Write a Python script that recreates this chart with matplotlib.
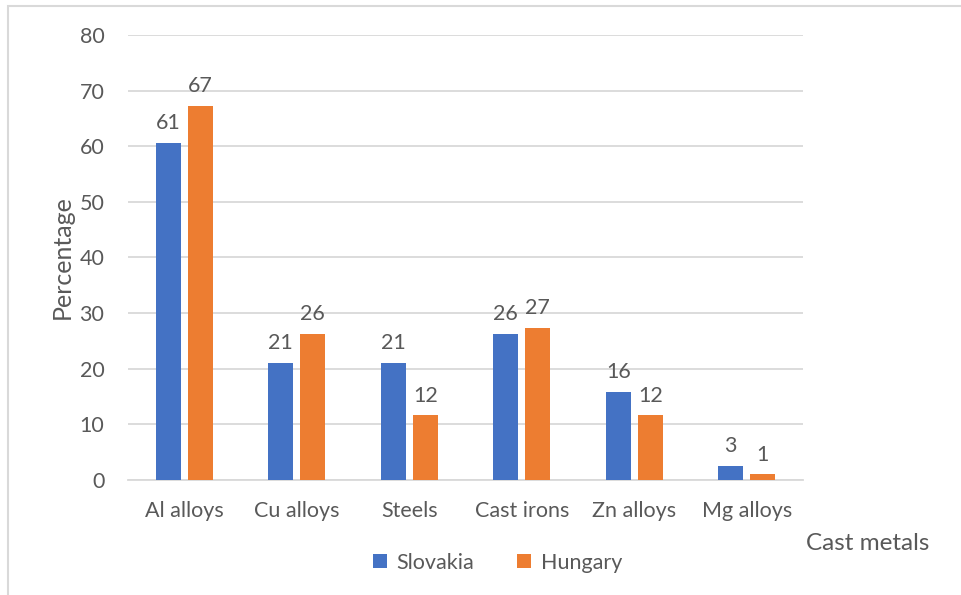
import numpy as np
import matplotlib.pyplot as plt
from matplotlib.patches import Rectangle

categories = ['Al alloys', 'Cu alloys', 'Steels', 'Cast irons', 'Zn alloys', 'Mg alloys']
slovakia = [60.6, 21.1, 21.1, 26.3, 15.8, 2.6]
hungary = [67.3, 26.3, 11.6, 27.3, 11.6, 1.0]

blue = '#4472C4'
orange = '#ED7D31'
txt = '#595959'
grid_c = '#D9D9D9'

plt.rcParams['font.family'] = ['Lato', 'DejaVu Sans']

fig = plt.figure(figsize=(9.62, 5.95), dpi=100)
ax = fig.add_axes([0.1331, 0.1933, 0.7017, 0.748])

x = np.arange(len(categories))
w = 0.222
off = 0.142
b1 = ax.bar(x - off, slovakia, w, color=blue, label='Slovakia', zorder=3)
b2 = ax.bar(x + off, hungary, w, color=orange, label='Hungary', zorder=3)

for bars, vals in ((b1, slovakia), (b2, hungary)):
    for r, v in zip(bars, vals):
        ax.annotate('%.0f' % v, (r.get_x() + r.get_width() / 2, v),
                    xytext=(0, 7), textcoords='offset points',
                    ha='center', va='bottom', fontsize=15.5, color=txt)

ax.set_xlim(-0.5, len(categories) - 0.5)
ax.set_ylim(0, 80)
ax.set_yticks(range(0, 81, 10))
ax.set_xticks(x)
ax.set_xticklabels(categories)
ax.yaxis.grid(True, color=grid_c, linewidth=1.3, zorder=0)
ax.tick_params(axis='both', length=0, labelsize=15.5, labelcolor=txt)
ax.tick_params(axis='x', pad=15)
ax.tick_params(axis='y', pad=17)
for s in ['top', 'right', 'left']:
    ax.spines[s].set_visible(False)
ax.spines['bottom'].set_color(grid_c)
ax.spines['bottom'].set_linewidth(1.3)

ax.set_ylabel('Percentage', fontsize=18, color=txt, labelpad=4)
fig.text(0.838, 0.087, 'Cast metals', fontsize=17.5, color=txt, ha='left', va='center')

ax.legend(loc='upper center', bbox_to_anchor=(0.547, -0.12), ncol=2, frameon=False,
          fontsize=15.5, labelcolor=txt, handlelength=0.65, handleheight=0.65,
          handletextpad=0.45, columnspacing=2.0)

# thin outer frame
fig.patches.append(Rectangle((8 / 962, -0.1), 1.2, 1 - 6 / 595 + 0.1,
                             transform=fig.transFigure, fill=False,
                             edgecolor=grid_c, linewidth=1.5))

fig.savefig('out.png', dpi=100)
